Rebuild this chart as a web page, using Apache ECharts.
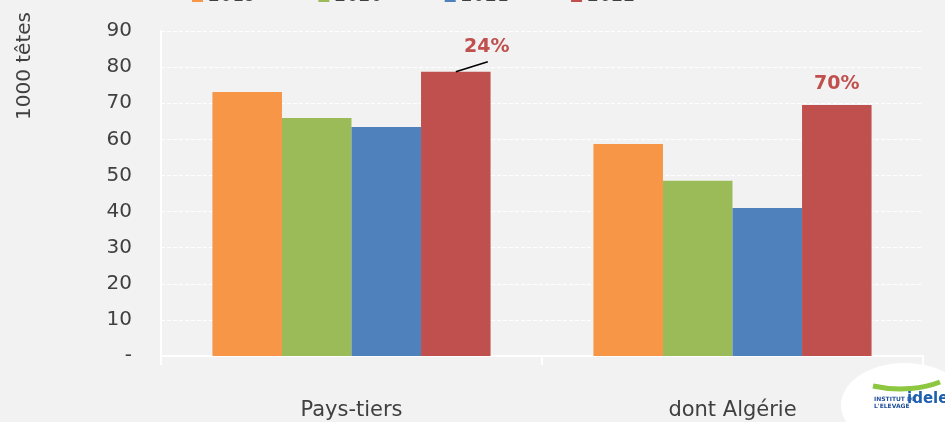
<!DOCTYPE html>
<html><head><meta charset="utf-8">
<script src="https://cdn.jsdelivr.net/npm/echarts@6/dist/echarts.min.js"></script>
<style>html,body{margin:0;padding:0;background:#F2F2F2}#c{width:945px;height:422px}</style>
</head><body><div id="c"></div>
<script>
var categories = ['Pays-tiers', 'dont Algérie'];
var years = ['2019', '2020', '2021', '2022'];
var v2019 = [73.1, 58.7];
var v2020 = [65.9, 48.5];
var v2021 = [63.4, 41.0];
var v2022 = [78.7, 69.5];
var labels2022 = ['24%', '70%'];
var yTicks = [0, 10, 20, 30, 40, 50, 60, 70, 80, 90];
var colors = ['#F79646', '#9BBB59', '#4F81BD', '#C0504D'];
var FONT = 'DejaVu Sans';

var chart = echarts.init(document.getElementById('c'), null, {renderer: 'canvas'});
var seriesVals = [v2019, v2020, v2021, v2022];
var series = seriesVals.map(function (vals, i) {
  var s = {
    name: years[i], type: 'bar', data: vals,
    barGap: '0%', barCategoryGap: '27%',
    itemStyle: {color: colors[i]},
    emphasis: {disabled: true}
  };
  if (i === 3) {
    s.data = vals.map(function (v, k) {
      return {
        value: v,
        label: {
          show: true, position: 'top',
          formatter: labels2022[k],
          color: '#C0504D', fontFamily: FONT, fontWeight: 'bold', fontSize: 19,
          distance: k === 0 ? 15 : 11,
          offset: k === 0 ? [31, 0] : [0, 0]
        }
      };
    });
  }
  return s;
});

var baseGraphic = [
  {id: 'yname', type: 'text', x: 25, y: 66, rotation: Math.PI / 2,
   style: {text: '1000 têtes', font: '20px "DejaVu Sans"', fill: '#404040', align: 'center', verticalAlign: 'middle'}},
  {id: 'logoBg', type: 'ellipse', shape: {cx: 905, cy: 405, rx: 64, ry: 42}, style: {fill: '#FFFFFF'}, z: 10},
  {id: 'logoSwoosh', type: 'bezierCurve', shape: {x1: 873, y1: 386, x2: 940, y2: 382, cpx1: 900, cpy1: 392, cpx2: 925, cpy2: 388},
   style: {stroke: '#8DC63F', lineWidth: 5, fill: null}, z: 11},
  {id: 'logoT1', type: 'text', x: 874, y: 396, style: {text: 'INSTITUT DE\nL\'ELEVAGE', font: 'bold 6px "DejaVu Sans"', fill: '#1F4E9A', lineHeight: 7}, z: 11},
  {id: 'logoT2', type: 'text', x: 907, y: 392, style: {text: 'idele', font: 'bold 15px "DejaVu Sans"', fill: '#1F5FB0'}, z: 11}
];

chart.setOption({
  backgroundColor: '#F2F2F2',
  animation: false,
  color: colors,
  legend: {
    data: years, top: -18, left: 187, itemGap: 62, itemWidth: 11, itemHeight: 11,
    icon: 'rect',
    textStyle: {fontFamily: FONT, fontSize: 19, color: '#404040'}
  },
  grid: {left: 161, right: 22, top: 31, bottom: 66},
  xAxis: {
    type: 'category', data: categories,
    axisLine: {show: true, lineStyle: {color: '#FFFFFF', width: 2}},
    axisTick: {show: true, length: 9, lineStyle: {color: '#FFFFFF', width: 2}},
    axisLabel: {margin: 44, fontFamily: FONT, fontSize: 21, color: '#404040'}
  },
  yAxis: {
    type: 'value', min: 0, max: 90, interval: 10,
    axisLine: {show: true, lineStyle: {color: '#FFFFFF', width: 2}},
    axisTick: {show: false},
    splitLine: {lineStyle: {color: '#FFFFFF', type: [4, 2], width: 1}},
    axisLabel: {
      margin: 29, fontFamily: FONT, fontSize: 20, color: '#404040',
      formatter: function (v) { return yTicks.indexOf(v) === 0 ? '-' : String(v); }
    }
  },
  graphic: baseGraphic,
  series: series
});

// leader line for the first 2022 label, from the bar layout computed by the library
var layout = chart.getModel().getSeriesByIndex(3).getData().getItemLayout(0);
if (layout) {
  var topY = layout.y + Math.min(0, layout.height);
  var bx = layout.x + layout.width * 0.5;
  chart.setOption({graphic: {elements: [
    {id: 'leader', type: 'line', shape: {x1: bx, y1: topY, x2: bx + 32, y2: topY - 10},
     style: {stroke: '#000000', lineWidth: 1.6}, z: 12}
  ]}});
}
</script></body></html>
